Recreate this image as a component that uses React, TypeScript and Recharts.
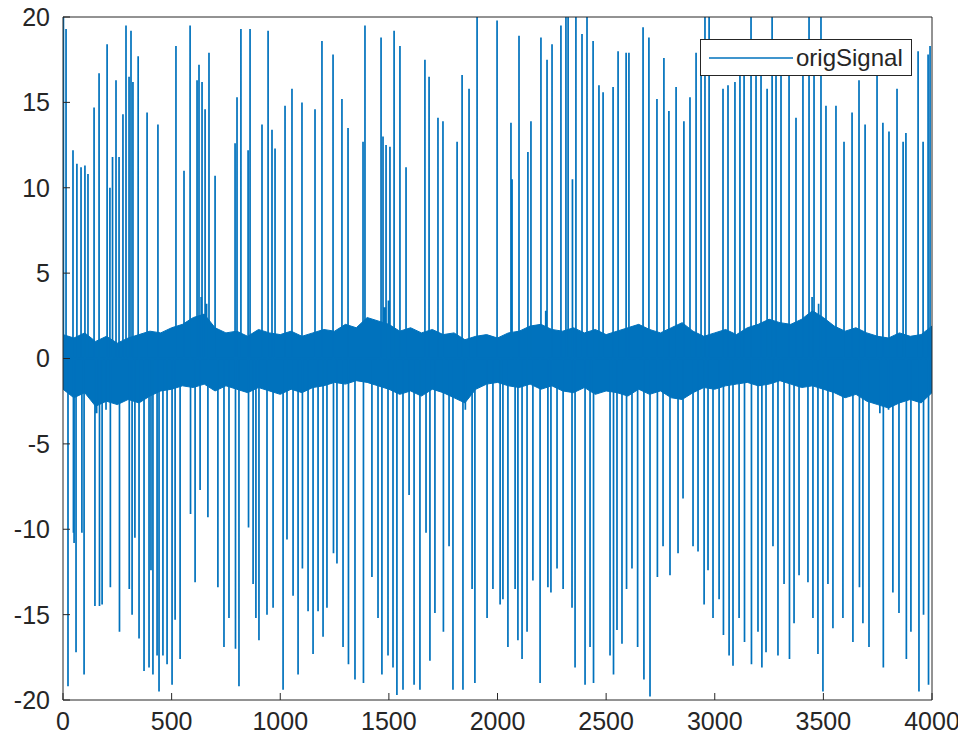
import React from 'react';
import { ComposedChart, Line, Area, XAxis, YAxis, Legend } from 'recharts';

// x ticks and y ticks
const xTicks = [0, 500, 1000, 1500, 2000, 2500, 3000, 3500, 4000];
const yTicks = [-20, -15, -10, -5, 0, 5, 10, 15, 20];

// dense noise envelope (sample index, upper, lower)
const bandAt = [0,50,100,150,200,250,300,350,400,450,500,550,600,650,700,750,800,850,900,950,1000,1050,1100,1150,1200,1250,1300,1350,1400,1450,1500,1550,1600,1650,1700,1750,1800,1850,1900,1950,2000,2050,2100,2150,2200,2250,2300,2350,2400,2450,2500,2550,2600,2650,2700,2750,2800,2850,2900,2950,3000,3050,3100,3150,3200,3250,3300,3350,3400,3450,3500,3550,3600,3650,3700,3750,3800,3850,3900,3950,4000];
const bandHigh = [1.4,1.2,1.5,1.0,1.3,0.9,1.2,1.4,1.6,1.5,1.8,2.0,2.4,2.6,1.8,1.5,1.6,1.3,1.7,1.5,1.4,1.6,1.3,1.5,1.7,1.6,2.0,1.8,2.4,2.2,2.0,1.6,1.8,1.5,1.7,1.4,1.5,1.1,1.3,1.4,1.2,1.5,1.6,1.9,2.0,1.7,1.6,1.8,1.5,1.7,1.4,1.6,1.8,2.0,1.7,1.5,1.8,2.1,1.6,1.3,1.5,1.7,1.4,1.8,2.0,2.3,2.1,2.0,2.3,2.8,2.4,1.9,1.6,1.8,1.5,1.3,1.2,1.5,1.3,1.4,1.9];
const bandLow = [-1.8,-2.3,-2.0,-2.8,-2.5,-2.7,-2.4,-2.6,-2.2,-1.9,-1.8,-1.6,-1.7,-1.5,-1.9,-1.6,-1.8,-2.0,-1.7,-1.9,-2.1,-1.8,-2.0,-1.7,-1.6,-1.4,-1.5,-1.3,-1.4,-1.6,-1.8,-2.1,-1.9,-2.2,-1.8,-2.0,-2.3,-2.6,-1.8,-1.5,-1.4,-1.6,-1.7,-1.5,-1.8,-1.6,-1.9,-2.0,-1.7,-2.1,-1.9,-2.0,-2.2,-1.8,-2.1,-1.9,-2.3,-2.4,-2.0,-1.7,-1.8,-1.6,-1.5,-1.4,-1.6,-1.5,-1.3,-1.5,-1.7,-1.6,-1.8,-2.0,-2.3,-2.1,-2.5,-2.7,-2.9,-2.6,-2.4,-2.6,-2.0];

// positive spikes: [sample, peak]
const upSpikes: [number, number][] = [
  [2,20],[14,19.3],[46,12.2],[64,11.4],[83,11.2],[101,11.3],[115,10.8],[143,14.7],[166,16.7],[203,18.4],
  [216,10.0],[228,11.8],[244,16.3],[258,11.8],[276,14.3],[290,19.5],[304,16.5],[313,19.2],[322,16.2],[346,17.7],[387,14.4],
  [437,13.7],[520,18.3],[557,11.0],[585,19.5],[617,16.3],[626,17.2],[636,3.6],[640,16.2],[654,14.6],[661,3.2],[672,17.9],[700,10.7],
  [792,12.6],[801,15.3],[819,19.3],[852,12.2],[861,19.3],[916,13.7],[944,19.2],[962,13.4],[976,12.3],[1022,14.8],
  [1054,15.8],[1100,15.0],[1160,14.6],[1192,18.6],[1243,17.8],[1284,15.2],[1312,13.5],[1381,12.7],[1390,19.5],[1464,18.8],
  [1473,13],[1480,3.0],[1487,12.5],[1498,3.4],[1505,12.4],[1524,19.2],[1551,18.3],[1579,11.2],[1666,17.5],[1685,16.5],[1726,14.1],[1749,13.9],
  [1814,12.7],[1837,16.6],[1869,15.8],[1906,20],[1998,19.8],[2062,13.8],[2067,10.5],[2099,18.9],[2140,12.1],[2154,13.9],[2200,18.8],[2222,2.8],[2228,17.5],
  [2251,18.4],[2292,19.5],[2315,20],[2325,20],[2345,10.5],[2361,20],[2389,19],[2412,20],[2440,18.6],[2467,16],[2486,15.6],
  [2532,15.9],[2555,18],[2592,17.9],[2605,17.9],[2670,19.4],[2697,18.8],[2734,15.2],[2766,17.6],[2789,14.5],[2822,15.9],
  [2858,13.9],[2886,15.3],[2914,17.9],[2937,16.6],[2955,20],[2974,20],[3038,15.8],[3061,16],[3093,16.2],[3116,16.9],
  [3135,17.4],[3167,20],[3190,16.6],[3213,18.3],[3241,15.8],[3264,20],[3282,16.6],[3305,17.3],[3342,17.2],[3374,14.1],
  [3406,17.2],[3434,20],[3448,3.6],[3457,17.2],[3478,3.2],[3489,20],[3512,14.8],[3558,14.8],[3595,12.7],[3632,14.4],[3664,16.3],[3692,13.7],
  [3747,16.9],[3774,13.8],[3802,13.3],[3839,15.8],[3867,12.7],[3880,13.2],[3936,18],[3959,12.7],[3982,17.8],[3991,18.3],
];

// negative spikes: [sample, trough]
const downSpikes: [number, number][] = [
  [23,-19.2],[48,-10.2],[51,-10.8],[60,-17.2],[87,-10.2],[97,-18.5],[147,-14.5],[155,-3.2],[168,-14.5],[180,-14.4],[198,-3.0],[218,-13.4],
  [260,-16],[305,-13.5],[318,-15],[331,-10.5],[350,-16.4],[373,-18.3],[396,-18.1],[405,-12.4],[414,-18.5],[433,-17.4],[442,-19.5],
  [460,-17.4],[479,-17.9],[502,-19.1],[516,-15.3],[539,-17.6],[587,-9.1],[608,-13.1],[631,-7.7],[667,-9.3],[713,-13.4],
  [741,-16.9],[764,-15.2],[794,-17],[810,-19.2],[854,-9.9],[875,-13.2],[888,-15.2],[902,-16.5],[939,-15],[967,-14.6],
  [1013,-19.4],[1031,-10.6],[1059,-13.9],[1082,-18.5],[1102,-12.3],[1128,-14.8],[1151,-17.3],[1174,-14.8],[1197,-16.3],[1215,-14.6],
  [1245,-11.4],[1261,-12],[1289,-16.9],[1314,-17.9],[1344,-18.8],[1383,-19],[1422,-12.8],[1450,-15.2],[1468,-18.5],[1496,-17.4],
  [1519,-18.1],[1537,-19.7],[1565,-19.4],[1593,-8],[1616,-19.1],[1643,-19.4],[1671,-10.2],[1689,-17.7],[1712,-14.9],[1751,-16],
  [1777,-11],[1795,-19.4],[1841,-19.4],[1852,-3.0],[1883,-13.5],[1896,-19],[1952,-15.2],[1979,-13.5],[2012,-14.4],[2025,-14.1],[2048,-16.9],
  [2081,-13.5],[2094,-16.5],[2113,-17.6],[2136,-16],[2163,-13],[2196,-19],[2232,-13.4],[2246,-13.7],[2274,-12.3],[2302,-13.5],
  [2343,-14.6],[2357,-18.1],[2403,-19.1],[2426,-16.9],[2442,-19],[2518,-17.4],[2534,-18.5],[2550,-15.9],[2573,-16.7],[2594,-13.5],
  [2619,-12.3],[2645,-16.9],[2674,-18.8],[2702,-19.8],[2736,-12.8],[2762,-11],[2794,-12.7],[2831,-11.4],[2854,-8.2],[2900,-11],
  [2923,-11.3],[2951,-14.4],[2969,-12.4],[2992,-15.2],[3020,-14.1],[3040,-16.2],[3066,-17.4],[3084,-18],[3112,-15.2],[3137,-16.6],
  [3169,-17.9],[3199,-16],[3217,-18.1],[3236,-17.2],[3268,-11],[3291,-17.4],[3319,-13.2],[3344,-17.6],[3365,-15.5],[3388,-12.7],
  [3429,-13.1],[3452,-15.2],[3475,-17.3],[3498,-19.5],[3521,-13.2],[3544,-15.8],[3590,-15.2],[3636,-16.6],[3666,-13.4],[3682,-15.5],
  [3710,-16.9],[3760,-3.2],[3776,-18.1],[3800,-3.0],[3820,-13.7],[3848,-14.9],[3882,-17.6],[3903,-16],[3940,-19.5],[3961,-15],[3984,-19.1],
];

const BLUE = '#0072BD';
const AXIS = '#262626';
const FONT = '"Liberation Sans", Arial, Helvetica, sans-serif';

const bandData = bandAt.map((x, i) => ({ x, range: [bandLow[i], bandHigh[i]] }));

const spikeData = [...upSpikes, ...downSpikes]
  .sort((a, b) => a[0] - b[0])
  .flatMap(([x, v]) => [
    { x, y: 0 },
    { x, y: v },
    { x, y: 0 },
  ]);

const LegendBox = () => (
  <div
    style={{
      width: 212,
      height: 37,
      boxSizing: 'border-box',
      border: `1px solid ${AXIS}`,
      background: '#fff',
      display: 'flex',
      alignItems: 'center',
      fontFamily: FONT,
      fontSize: 24,
      color: AXIS,
      whiteSpace: 'nowrap',
    }}
  >
    <svg width={88} height={20} style={{ marginLeft: 6, flex: 'none' }}>
      <line x1={2} y1={10} x2={86} y2={10} stroke={BLUE} strokeWidth={1.5} />
    </svg>
    <span style={{ marginLeft: 1 }}>origSignal</span>
  </div>
);

export default function App() {
  const tickStyle = { fill: AXIS, fontSize: 25, fontFamily: FONT };
  return (
    <div style={{ margin: '-8px 0 0 -8px', width: 966, height: 746 }}>
      <ComposedChart
        width={966}
        height={746}
        margin={{ top: 16, right: 33, bottom: 0, left: 0 }}
      >
        <XAxis
          xAxisId="b"
          dataKey="x"
          type="number"
          domain={[0, 4000]}
          ticks={xTicks}
          interval={0}
          allowDataOverflow
          height={46}
          stroke={AXIS}
          tickSize={-7}
          tickMargin={19}
          tick={tickStyle}
        />
        <XAxis
          xAxisId="t"
          orientation="top"
          type="number"
          domain={[0, 4000]}
          ticks={xTicks}
          interval={0}
          height={1}
          stroke={AXIS}
          tickSize={-7}
          tick={false}
        />
        <YAxis
          yAxisId="l"
          type="number"
          domain={[-20, 20]}
          ticks={yTicks}
          interval={0}
          allowDataOverflow
          width={63}
          stroke={AXIS}
          tickSize={-7}
          tickMargin={20}
          tick={tickStyle}
        />
        <YAxis
          yAxisId="r"
          orientation="right"
          type="number"
          domain={[-20, 20]}
          ticks={yTicks}
          interval={0}
          width={1}
          stroke={AXIS}
          tickSize={-7}
          tick={false}
        />
        <Area
          xAxisId="b"
          yAxisId="l"
          data={bandData}
          dataKey="range"
          type="linear"
          stroke={BLUE}
          strokeWidth={1}
          fill={BLUE}
          fillOpacity={1}
          legendType="none"
          isAnimationActive={false}
        />
        <Line
          xAxisId="b"
          yAxisId="l"
          data={spikeData}
          dataKey="y"
          name="origSignal"
          type="linear"
          stroke={BLUE}
          strokeWidth={1.7}
          dot={false}
          activeDot={false}
          isAnimationActive={false}
        />
        <Legend
          layout="horizontal"
          verticalAlign="middle"
          content={() => <LegendBox />}
          wrapperStyle={{ position: 'absolute', left: 700, top: 39, width: 212 }}
        />
      </ComposedChart>
    </div>
  );
}
